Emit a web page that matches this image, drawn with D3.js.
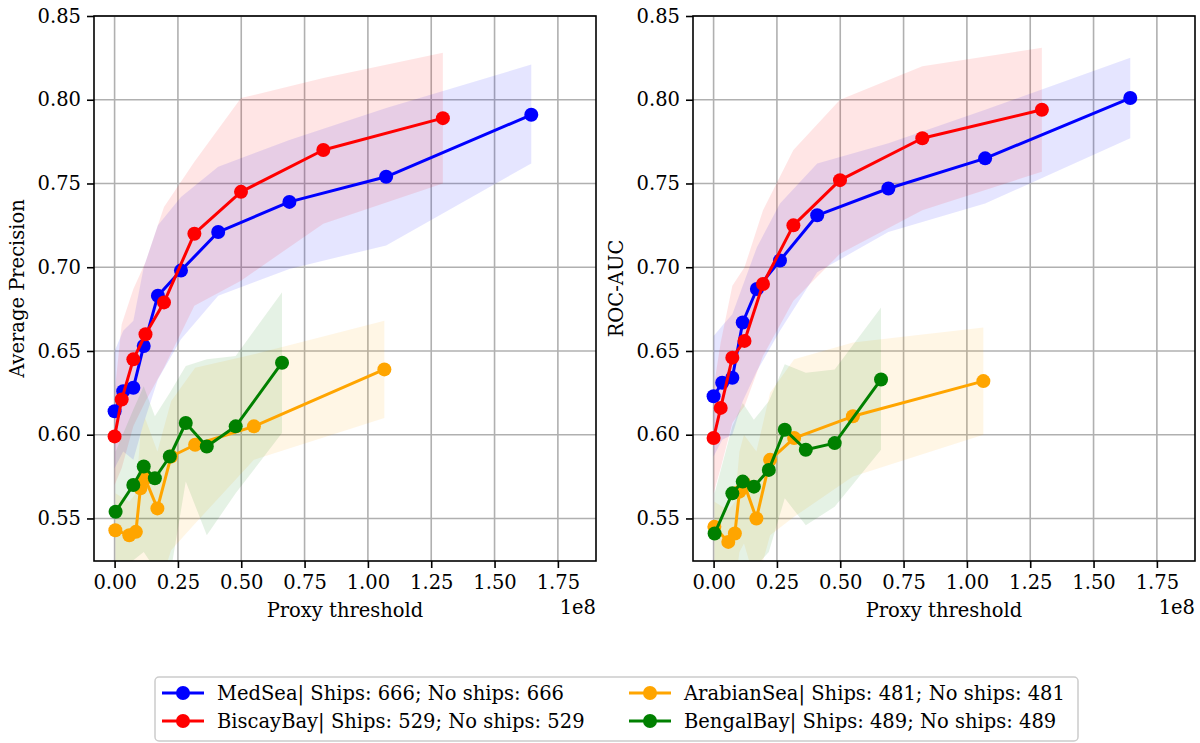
<!DOCTYPE html>
<html>
<head>
<meta charset="utf-8">
<script src="https://cdn.jsdelivr.net/npm/d3@7"></script>
<style>
  body { margin: 0; background: #fff; }
  svg { display: block; font-family: "DejaVu Serif", serif; }
</style>
</head>
<body>
<script>
// proxy thresholds (raw units, axis shows them / 1e8)
const medX = [0.0, 0.034, 0.074, 0.115, 0.171, 0.262, 0.409, 0.690, 1.072, 1.645].map((v) => v * 1e8);
const bisX = [0.0, 0.028, 0.074, 0.122, 0.195, 0.315, 0.499, 0.824, 1.296].map((v) => v * 1e8);
const araX = [0.003, 0.058, 0.084, 0.102, 0.120, 0.169, 0.223, 0.318, 0.550, 1.065].map((v) => v * 1e8);
const benX = [0.004, 0.074, 0.115, 0.159, 0.218, 0.281, 0.364, 0.478, 0.661].map((v) => v * 1e8);

// average precision: mean, lower and upper band
const medAP = [0.614, 0.626, 0.628, 0.653, 0.683, 0.698, 0.721, 0.739, 0.754, 0.791];
const medAPLo = [0.580, 0.590, 0.585, 0.607, 0.633, 0.657, 0.683, 0.699, 0.713, 0.762];
const medAPHi = [0.650, 0.662, 0.668, 0.700, 0.725, 0.742, 0.760, 0.776, 0.795, 0.821];
const bisAP = [0.599, 0.621, 0.645, 0.660, 0.679, 0.720, 0.745, 0.770, 0.789];
const bisAPLo = [0.570, 0.580, 0.605, 0.620, 0.640, 0.677, 0.692, 0.726, 0.750];
const bisAPHi = [0.625, 0.666, 0.687, 0.703, 0.736, 0.763, 0.801, 0.813, 0.828];
const araAP = [0.543, 0.540, 0.542, 0.568, 0.574, 0.556, 0.587, 0.594, 0.605, 0.639];
const araAPLo = [0.510, 0.510, 0.510, 0.520, 0.525, 0.505, 0.531, 0.547, 0.585, 0.610];
const araAPHi = [0.565, 0.560, 0.565, 0.600, 0.610, 0.590, 0.620, 0.640, 0.648, 0.668];
const benAP = [0.554, 0.570, 0.581, 0.574, 0.587, 0.607, 0.593, 0.605, 0.643];
const benAPLo = [0.515, 0.525, 0.530, 0.520, 0.515, 0.572, 0.540, 0.565, 0.601];
const benAPHi = [0.590, 0.615, 0.629, 0.611, 0.625, 0.641, 0.645, 0.647, 0.685];

// ROC-AUC: mean, lower and upper band
const medAUC = [0.623, 0.631, 0.634, 0.667, 0.687, 0.704, 0.731, 0.747, 0.765, 0.801];
const medAUCLo = [0.587, 0.597, 0.600, 0.620, 0.638, 0.662, 0.697, 0.721, 0.738, 0.777];
const medAUCHi = [0.659, 0.665, 0.672, 0.689, 0.712, 0.738, 0.762, 0.774, 0.794, 0.825];
const bisAUC = [0.598, 0.616, 0.646, 0.656, 0.690, 0.725, 0.752, 0.777, 0.794];
const bisAUCLo = [0.565, 0.580, 0.607, 0.617, 0.647, 0.680, 0.708, 0.734, 0.757];
const bisAUCHi = [0.628, 0.655, 0.689, 0.700, 0.734, 0.770, 0.800, 0.820, 0.831];
const araAUC = [0.545, 0.536, 0.541, 0.566, 0.571, 0.550, 0.585, 0.598, 0.611, 0.632];
const araAUCLo = [0.520, 0.510, 0.510, 0.530, 0.535, 0.510, 0.540, 0.551, 0.575, 0.600];
const araAUCHi = [0.560, 0.555, 0.560, 0.590, 0.600, 0.590, 0.625, 0.645, 0.655, 0.664];
const benAUC = [0.541, 0.565, 0.572, 0.569, 0.579, 0.603, 0.591, 0.595, 0.633];
const benAUCLo = [0.515, 0.515, 0.520, 0.520, 0.530, 0.562, 0.546, 0.557, 0.591];
const benAUCHi = [0.565, 0.605, 0.619, 0.609, 0.620, 0.642, 0.637, 0.639, 0.676];

const seriesNames = [
  "MedSea| Ships: 666; No ships: 666",
  "BiscayBay| Ships: 529; No ships: 529",
  "ArabianSea| Ships: 481; No ships: 481",
  "BengalBay| Ships: 489; No ships: 489"
];
const seriesColors = ["blue", "red", "orange", "green"];
const xTicks = [0, 0.25, 0.5, 0.75, 1.0, 1.25, 1.5, 1.75].map((v) => v * 1e8);
const yTicks = [0.55, 0.6, 0.65, 0.7, 0.75, 0.8, 0.85];

const width = 1200,
  height = 743,
  plotTop = 16,
  plotBottom = 561,
  fontSize = 19.5,
  gridColor = "#b0b0b0",
  lineWidth = 3,
  markerRadius = 7,
  bandOpacity = 0.1;

const xs = [medX, bisX, araX, benX];
const panels = [
  {
    left: 94, right: 596, label: "Average Precision",
    mean: [medAP, bisAP, araAP, benAP],
    lo: [medAPLo, bisAPLo, araAPLo, benAPLo],
    hi: [medAPHi, bisAPHi, araAPHi, benAPHi]
  },
  {
    left: 693, right: 1195, label: "ROC-AUC",
    mean: [medAUC, bisAUC, araAUC, benAUC],
    lo: [medAUCLo, bisAUCLo, araAUCLo, benAUCLo],
    hi: [medAUCHi, bisAUCHi, araAUCHi, benAUCHi]
  }
];

const svg = d3
  .select("body")
  .append("svg")
  .attr("width", width)
  .attr("height", height)
  .attr("font-size", fontSize);

panels.forEach((p, pi) => {
  const x = d3.scaleLinear().domain([-0.0813e8, 1.9005e8]).range([p.left, p.right]);
  const y = d3.scaleLinear().domain([0.5246, 0.85]).range([plotBottom, plotTop]);

  const clipId = "clip" + pi;
  svg.append("clipPath").attr("id", clipId)
    .append("rect")
    .attr("x", p.left).attr("y", plotTop)
    .attr("width", p.right - p.left).attr("height", plotBottom - plotTop);

  // grid
  const grid = svg.append("g").attr("stroke", gridColor).attr("stroke-width", 1.6);
  grid.selectAll(".gx").data(xTicks).join("line")
    .attr("x1", (d) => x(d)).attr("x2", (d) => x(d))
    .attr("y1", plotTop).attr("y2", plotBottom);
  grid.selectAll(".gy").data(yTicks).join("line")
    .attr("x1", p.left).attr("x2", p.right)
    .attr("y1", (d) => y(d)).attr("y2", (d) => y(d));

  const plot = svg.append("g").attr("clip-path", `url(#${clipId})`);

  seriesNames.forEach((name, si) => {
    const pts = xs[si].map((xv, i) => ({
      x: xv, m: p.mean[si][i], lo: p.lo[si][i], hi: p.hi[si][i]
    }));
    const area = d3.area().x((d) => x(d.x)).y0((d) => y(d.lo)).y1((d) => y(d.hi));
    plot.append("path")
      .datum(pts)
      .attr("d", area)
      .attr("fill", seriesColors[si])
      .attr("fill-opacity", bandOpacity);
  });

  seriesNames.forEach((name, si) => {
    const pts = xs[si].map((xv, i) => ({ x: xv, m: p.mean[si][i] }));
    const line = d3.line().x((d) => x(d.x)).y((d) => y(d.m));
    plot.append("path")
      .datum(pts)
      .attr("d", line)
      .attr("fill", "none")
      .attr("stroke", seriesColors[si])
      .attr("stroke-width", lineWidth)
      .attr("stroke-linejoin", "round");
    plot.append("g").attr("fill", seriesColors[si])
      .selectAll("circle").data(pts).join("circle")
      .attr("cx", (d) => x(d.x))
      .attr("cy", (d) => y(d.m))
      .attr("r", markerRadius);
  });

  // axes
  const xAxis = svg.append("g")
    .attr("transform", `translate(0,${plotBottom})`)
    .call(d3.axisBottom(x).tickValues(xTicks).tickFormat((d) => (d / 1e8).toFixed(2)).tickSize(7).tickPadding(7));
  const yAxis = svg.append("g")
    .attr("transform", `translate(${p.left},0)`)
    .call(d3.axisLeft(y).tickValues(yTicks).tickFormat(d3.format(".2f")).tickSize(7).tickPadding(6));
  [xAxis, yAxis].forEach((a) => {
    a.select(".domain").remove();
    a.selectAll(".tick line").attr("stroke", "#000").attr("stroke-width", 1.6);
    a.selectAll(".tick text")
      .attr("font-family", "DejaVu Serif, serif")
      .attr("font-size", fontSize)
      .attr("fill", "#000");
  });

  // spines
  svg.append("rect")
    .attr("x", p.left).attr("y", plotTop)
    .attr("width", p.right - p.left).attr("height", plotBottom - plotTop)
    .attr("fill", "none").attr("stroke", "#000").attr("stroke-width", 1.6);

  svg.append("text")
    .attr("x", (p.left + p.right) / 2)
    .attr("y", 617)
    .attr("text-anchor", "middle")
    .text("Proxy threshold");
  svg.append("text")
    .attr("x", p.right)
    .attr("y", 614)
    .attr("text-anchor", "end")
    .text("1e8");
  svg.append("text")
    .attr("transform", `translate(${p.left - 70},${(plotTop + plotBottom) / 2}) rotate(-90)`)
    .attr("text-anchor", "middle")
    .text(p.label);
});

// legend
const legend = svg.append("g");
legend.append("rect")
  .attr("x", 155).attr("y", 677)
  .attr("width", 923).attr("height", 64)
  .attr("rx", 4)
  .attr("fill", "#fff")
  .attr("stroke", "#cccccc")
  .attr("stroke-width", 1.5);

const legendCols = [162, 629];
const legendRows = [693, 721];
seriesNames.forEach((name, si) => {
  const col = Math.floor(si / 2), row = si % 2;
  const lx = legendCols[col], ly = legendRows[row];
  const item = legend.append("g");
  item.append("line")
    .attr("x1", lx).attr("x2", lx + 42)
    .attr("y1", ly).attr("y2", ly)
    .attr("stroke", seriesColors[si]).attr("stroke-width", lineWidth);
  item.append("circle")
    .attr("cx", lx + 21).attr("cy", ly).attr("r", markerRadius)
    .attr("fill", seriesColors[si]);
  item.append("text")
    .attr("x", lx + 55).attr("y", ly)
    .attr("dy", "0.35em")
    .text(name);
});
</script>
</body>
</html>
